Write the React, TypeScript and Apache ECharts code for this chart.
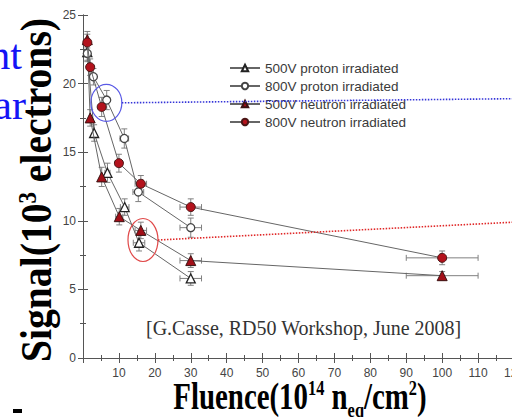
import React, { useEffect, useRef } from "react";
import * as echarts from "echarts";

// ---- data ----
const p500X = [1.2, 3.1, 6.8, 11.6, 15.6, 30];
const p500Y = [22.3, 16.4, 13.5, 11.0, 8.4, 5.8];
const p500XErr = [0.1, 0.3, 0.7, 1.2, 1.6, 3];
const p500YErr = [0.6, 0.6, 0.7, 0.6, 0.6, 0.5];

const p800X = [1.2, 2.9, 6.6, 11.5, 15.4, 30];
const p800Y = [22.2, 20.5, 18.8, 16.0, 12.1, 9.5];
const p800XErr = [0.1, 0.3, 0.7, 1.2, 1.5, 3];
const p800YErr = [0.6, 0.6, 0.7, 0.7, 0.7, 0.7];

const n500X = [1.2, 2.0, 5.2, 10.1, 16.1, 30, 100];
const n500Y = [23.2, 17.5, 13.2, 10.3, 9.3, 7.1, 6.0];
const n500XErr = [0.1, 0.2, 0.5, 1.0, 1.6, 3, 10];
const n500YErr = [0.6, 0.6, 0.7, 0.6, 0.6, 0.5, 0.3];

const n800X = [1.2, 2.0, 5.2, 10.0, 16.1, 30, 100];
const n800Y = [23.0, 21.2, 18.3, 14.2, 12.7, 11.0, 7.3];
const n800XErr = [0.1, 0.2, 0.5, 1.0, 1.6, 3, 10];
const n800YErr = [0.6, 0.6, 0.7, 0.65, 0.6, 0.6, 0.5];

const seriesNames = [
  "500V proton irradiated",
  "800V proton irradiated",
  "500V neutron irradiated",
  "800V neutron irradiated",
];

// annotation anchors (data coordinates)
const blueMark = [6.5, 18.6];
const blueLineEnd = [120, 18.9];
const redMark = [16.7, 8.6];
const redLineEnd = [120, 9.9];

const zip = (xs: number[], ys: number[]) => xs.map((x, i) => [x, ys[i]]);
const errRows = (xs: number[], ys: number[], xe: number[], ye: number[]) =>
  xs.map((x, i) => [x, ys[i], xe[i], ye[i]]);

const SANS = "Liberation Sans, Arial, sans-serif";
const SERIF = "Liberation Serif, Times New Roman, serif";

export default function App() {
  const ref = useRef<HTMLDivElement>(null);
  useEffect(() => {
    if (!ref.current) return;
    const chart = echarts.init(ref.current, null, { renderer: "svg" });

    const axisCommon = {
      type: "value" as const,
      axisLine: { show: true, lineStyle: { color: "#555", width: 1 } },
      axisTick: { show: true, inside: true, length: 5, lineStyle: { color: "#555" } },
      minorTick: { show: true, splitNumber: 2, length: 3, lineStyle: { color: "#555" } },
      splitLine: { show: false },
    };

    const lineStyle = { color: "#666", width: 1 };

    const errData = [
      ...errRows(p500X, p500Y, p500XErr, p500YErr),
      ...errRows(p800X, p800Y, p800XErr, p800YErr),
      ...errRows(n500X, n500Y, n500XErr, n500YErr),
      ...errRows(n800X, n800Y, n800XErr, n800YErr),
    ];

    chart.setOption({
      animation: false,
      backgroundColor: "#fff",
      grid: { left: 83, top: 15, right: -2, bottom: 59, outerBoundsMode: "none", containLabel: false },
      xAxis: [
        {
          ...axisCommon,
          position: "bottom",
          min: 0,
          max: 120,
          interval: 10,
          axisLabel: { showMinLabel: false, color: "#444", fontSize: 12, fontFamily: SANS, margin: 9 },
        },
        {
          ...axisCommon,
          position: "top",
          min: 0,
          max: 120,
          interval: 10,
          axisLabel: { show: false },
        },
      ],
      yAxis: [
        {
          ...axisCommon,
          position: "left",
          min: 0,
          max: 25,
          interval: 5,
          axisLabel: { color: "#444", fontSize: 12, fontFamily: SANS, margin: 7 },
        },
        {
          ...axisCommon,
          position: "right",
          min: 0,
          max: 25,
          interval: 5,
          axisLabel: { show: false },
        },
      ],
      legend: {
        orient: "vertical",
        left: 229,
        top: 61,
        padding: 0,
        itemWidth: 30,
        itemHeight: 8,
        itemGap: 4,
        data: seriesNames,
        textStyle: { fontSize: 13.5, color: "#3a3a3a", fontFamily: SANS },
      },
      series: [
        {
          type: "custom",
          name: "errors",
          xAxisIndex: 0,
          yAxisIndex: 0,
          silent: true,
          clip: false,
          z: 1,
          encode: { x: 0, y: 1 },
          data: errData,
          renderItem: (_p: any, api: any) => {
            const x = api.value(0);
            const y = api.value(1);
            const xe = api.value(2);
            const ye = api.value(3);
            const c = api.coord([x, y]);
            const t = api.coord([x, y + ye]);
            const b = api.coord([x, y - ye]);
            const l = api.coord([x - xe, y]);
            const r = api.coord([x + xe, y]);
            const cap = 3;
            const style = { stroke: "#808080", lineWidth: 1 };
            const children: any[] = [
              { type: "line", shape: { x1: c[0], y1: t[1], x2: c[0], y2: b[1] }, style },
              { type: "line", shape: { x1: c[0] - cap, y1: t[1], x2: c[0] + cap, y2: t[1] }, style },
              { type: "line", shape: { x1: c[0] - cap, y1: b[1], x2: c[0] + cap, y2: b[1] }, style },
            ];
            if (r[0] - l[0] > 5) {
              children.push(
                { type: "line", shape: { x1: l[0], y1: c[1], x2: r[0], y2: c[1] }, style },
                { type: "line", shape: { x1: l[0], y1: c[1] - cap, x2: l[0], y2: c[1] + cap }, style },
                { type: "line", shape: { x1: r[0], y1: c[1] - cap, x2: r[0], y2: c[1] + cap }, style }
              );
            }
            return { type: "group", children };
          },
        },
        {
          type: "line",
          name: seriesNames[0],
          data: zip(p500X, p500Y),
          symbol: "triangle",
          symbolSize: 9,
          z: 3,
          lineStyle,
          itemStyle: { color: "#ffffff", borderColor: "#222", borderWidth: 1.3 },
        },
        {
          type: "line",
          name: seriesNames[1],
          data: zip(p800X, p800Y),
          symbol: "circle",
          symbolSize: 8,
          z: 3,
          lineStyle,
          itemStyle: { color: "#ffffff", borderColor: "#444", borderWidth: 1.3 },
        },
        {
          type: "line",
          name: seriesNames[2],
          data: zip(n500X, n500Y),
          symbol: "triangle",
          symbolSize: 10,
          z: 4,
          lineStyle,
          itemStyle: { color: "#a30f18", borderColor: "#3a1212", borderWidth: 1 },
        },
        {
          type: "line",
          name: seriesNames[3],
          data: zip(n800X, n800Y),
          symbol: "circle",
          symbolSize: 9,
          z: 4,
          lineStyle,
          itemStyle: { color: "#b3121c", borderColor: "#4a1515", borderWidth: 1 },
        },
      ],
    });

    const bp = chart.convertToPixel({ gridIndex: 0 }, blueMark) as number[];
    const be = chart.convertToPixel({ gridIndex: 0 }, blueLineEnd) as number[];
    const rp = chart.convertToPixel({ gridIndex: 0 }, redMark) as number[];
    const re = chart.convertToPixel({ gridIndex: 0 }, redLineEnd) as number[];
    const bRx = 15.5, bRy = 18.5, rRx = 15, rRy = 21.5;

    chart.setOption({
      graphic: [
        {
          type: "text",
          x: 22,
          y: 76,
          style: {
            text: "nt",
            fontSize: 42,
            fontFamily: SERIF,
            fill: "#1414f5",
            align: "right",
            textAlign: "right",
            verticalAlign: "bottom",
            textVerticalAlign: "bottom",
          },
        },
        {
          type: "text",
          x: 26,
          y: 126,
          style: {
            text: "ar",
            fontSize: 42,
            fontFamily: SERIF,
            fill: "#1414f5",
            align: "right",
            textAlign: "right",
            verticalAlign: "bottom",
            textVerticalAlign: "bottom",
          },
        },
        {
          type: "text",
          x: 36,
          y: 190,
          rotation: Math.PI / 2,
          scaleX: 0.88,
          style: {
            text: "{m|Signal(10}{s|3}{m| electrons)}",
            rich: {
              m: { fontSize: 45, fontWeight: "bold", fontFamily: SERIF, fill: "#000", lineHeight: 45, verticalAlign: "top" },
              s: { fontSize: 26, fontWeight: "bold", fontFamily: SERIF, fill: "#000", lineHeight: 26, verticalAlign: "top" },
            },
            align: "center",
            textAlign: "center",
            verticalAlign: "middle",
            textVerticalAlign: "middle",
          },
        },
        {
          type: "text",
          x: 300,
          y: 399,
          scaleX: 0.78,
          style: {
            text: "{m|Fluence(10}{s|14}{m| n}{b|eq}{m|/cm}{s|2}{m|)}",
            rich: {
              m: { fontSize: 37, fontWeight: "bold", fontFamily: SERIF, fill: "#000", lineHeight: 37, verticalAlign: "top" },
              s: { fontSize: 21, fontWeight: "bold", fontFamily: SERIF, fill: "#000", lineHeight: 21, verticalAlign: "top" },
              b: { fontSize: 21, fontWeight: "bold", fontFamily: SERIF, fill: "#000", lineHeight: 43, verticalAlign: "bottom" },
            },
            align: "center",
            textAlign: "center",
            verticalAlign: "middle",
            textVerticalAlign: "middle",
          },
        },
        {
          type: "text",
          x: 146,
          y: 328,
          style: {
            text: "[G.Casse, RD50 Workshop, June 2008]",
            fontSize: 20,
            fontFamily: SERIF,
            fill: "#333",
            align: "left",
            textAlign: "left",
            verticalAlign: "middle",
            textVerticalAlign: "middle",
          },
        },
        {
          type: "ellipse",
          shape: { cx: bp[0], cy: bp[1], rx: bRx, ry: bRy },
          style: { fill: "none", stroke: "#5a5ae6", lineWidth: 1.2 },
          z: 10,
        },
        {
          type: "line",
          shape: { x1: bp[0] + bRx, y1: bp[1], x2: be[0], y2: be[1] },
          style: { stroke: "#3434d8", lineWidth: 1.6, lineDash: [1.5, 1.5] },
          z: 10,
        },
        {
          type: "ellipse",
          shape: { cx: rp[0], cy: rp[1], rx: rRx, ry: rRy },
          style: { fill: "none", stroke: "#e04848", lineWidth: 1.2 },
          z: 10,
        },
        {
          type: "line",
          shape: { x1: rp[0] + rRx, y1: rp[1], x2: re[0], y2: re[1] },
          style: { stroke: "#e02828", lineWidth: 1.6, lineDash: [1.5, 1.5] },
          z: 10,
        },
        {
          type: "rect",
          shape: { x: 13, y: 409, width: 9, height: 4 },
          style: { fill: "#000" },
        },
      ],
    });

    return () => chart.dispose();
  }, []);

  return (
    <div
      ref={ref}
      style={{ position: "absolute", left: 0, top: 0, width: 512, height: 417 }}
    />
  );
}
